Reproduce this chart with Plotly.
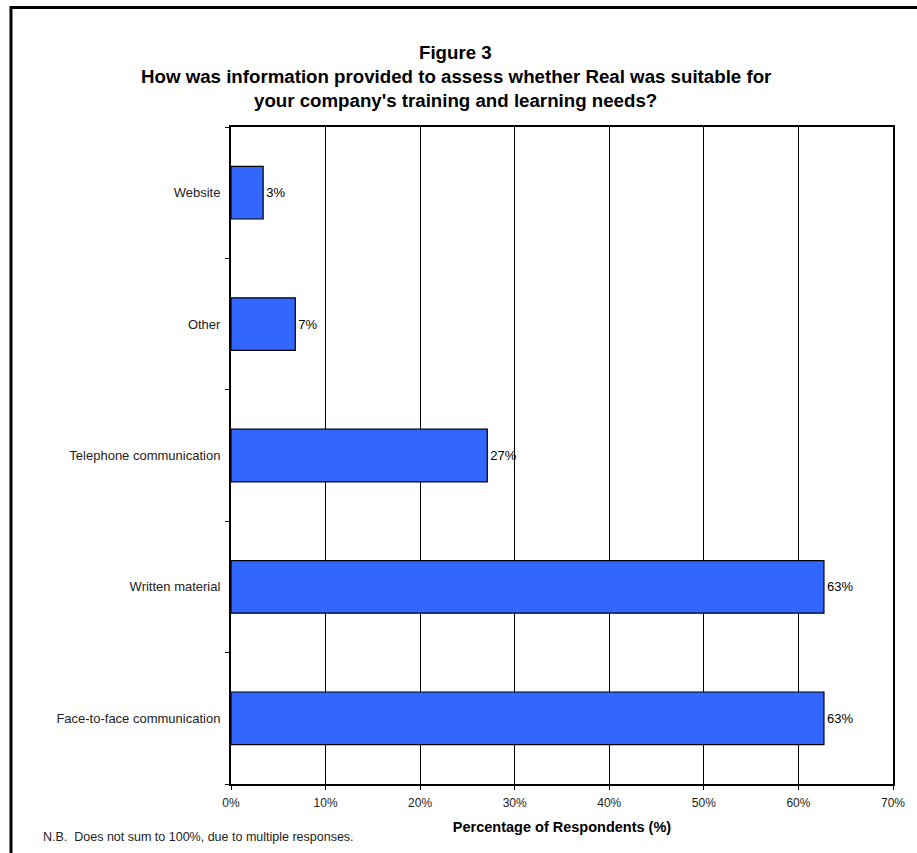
import plotly.graph_objects as go

# Survey responses (percentage of respondents), bottom-to-top order
categories = [
    "Face-to-face communication",
    "Written material",
    "Telephone communication",
    "Other",
    "Website",
]
values = [62.7, 62.7, 27.1, 6.8, 3.4]
x_ticks = [0, 10, 20, 30, 40, 50, 60, 70]
x_tick_labels = ["0%", "10%", "20%", "30%", "40%", "50%", "60%", "70%"]
title_lines = [
    "Figure 3",
    "How was information provided to assess whether Real was suitable for",
    "your company's training and learning needs?",
]

W, H = 917, 853
L, R, T, B = 231, 21, 127, 69
FONT = "Liberation Sans, Arial, sans-serif"

fig = go.Figure(
    go.Bar(
        y=categories,
        x=values,
        orientation="h",
        marker=dict(color="#3366FF", line=dict(color="black", width=1.2)),
        texttemplate="%{x:.0f}%",
        textposition="outside",
        textfont=dict(family=FONT, size=13, color="black"),
        cliponaxis=False,
    )
)

fig.update_layout(
    width=W,
    height=H,
    margin=dict(l=L, r=R, t=T, b=B, pad=0),
    paper_bgcolor="white",
    plot_bgcolor="white",
    bargap=0.6,
    showlegend=False,
    font=dict(family=FONT, color="black"),
)

fig.update_xaxes(
    range=[0, 70],
    tickvals=x_ticks,
    ticktext=x_tick_labels,
    tickfont=dict(family=FONT, size=12, color="#222"),
    ticks="outside",
    ticklen=4,
    tickwidth=1,
    tickcolor="black",
    ticklabelstandoff=3,
    showgrid=True,
    gridcolor="black",
    gridwidth=1,
    showline=True,
    linecolor="black",
    linewidth=2,
    mirror=True,
    zeroline=False,
    fixedrange=True,
    title=dict(
        text="<b>Percentage of Respondents (%)</b>",
        font=dict(family=FONT, size=14.5, color="black"),
        standoff=12,
    ),
)

fig.update_yaxes(
    type="category",
    categoryorder="array",
    categoryarray=categories,
    tickson="boundaries",
    ticks="outside",
    ticklen=4,
    tickwidth=1,
    tickcolor="black",
    tickfont=dict(family=FONT, size=13, color="#222"),
    ticklabelstandoff=6,
    showgrid=False,
    showline=True,
    linecolor="black",
    linewidth=2,
    mirror=True,
    fixedrange=True,
)

# pixel -> paper coordinate helpers
px = lambda v: (v - L) / (W - L - R)
py = lambda v: 1 - (v - T) / (H - T - B)

# Title, one annotation per line
for i, line in enumerate(title_lines):
    fig.add_annotation(
        text=f"<b>{line}</b>",
        xref="paper",
        yref="paper",
        x=px(457),
        y=py(52 + 24 * i),
        xanchor="center",
        yanchor="middle",
        showarrow=False,
        font=dict(family=FONT, size=18.7, color="black"),
    )

# Outer chart frame (continues past the right and bottom edges of the page)
fig.add_shape(
    type="rect",
    xref="paper",
    yref="paper",
    x0=px(10),
    x1=px(W + 20),
    y0=py(7.5),
    y1=py(H + 20),
    line=dict(color="black", width=3),
    fillcolor="rgba(0,0,0,0)",
    layer="above",
)

fig.add_annotation(
    text="N.B.  Does not sum to 100%, due to multiple responses.",
    xref="paper",
    yref="paper",
    x=px(40),
    y=py(837),
    xanchor="left",
    yanchor="middle",
    showarrow=False,
    font=dict(family=FONT, size=12.5, color="#222"),
)

fig.write_html("out.html")
